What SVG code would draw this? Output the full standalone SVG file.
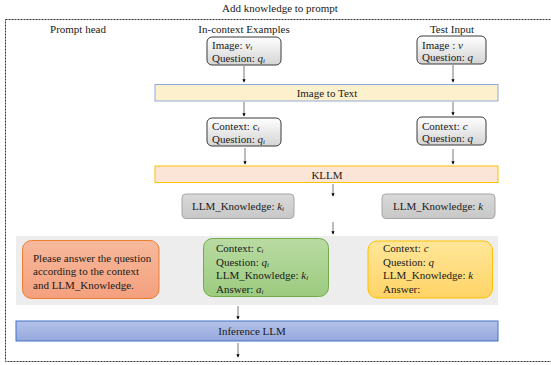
<svg xmlns="http://www.w3.org/2000/svg" width="551" height="365" viewBox="0 0 551 365">
<defs>
<linearGradient id="gIn" x1="0" y1="0" x2="0" y2="1"><stop offset="0" stop-color="#ffffff"/><stop offset="1" stop-color="#d4d4d4"/></linearGradient>
<linearGradient id="gKn" x1="0" y1="0" x2="0" y2="1"><stop offset="0" stop-color="#d9d9d9"/><stop offset="1" stop-color="#c8c8c8"/></linearGradient>
<linearGradient id="gOr" x1="0" y1="0" x2="0" y2="1"><stop offset="0" stop-color="#f7b99c"/><stop offset="1" stop-color="#f4a07e"/></linearGradient>
<linearGradient id="gGr" x1="0" y1="0" x2="0" y2="1"><stop offset="0" stop-color="#b9dba3"/><stop offset="1" stop-color="#9ccb7e"/></linearGradient>
<linearGradient id="gYe" x1="0" y1="0" x2="0" y2="1"><stop offset="0" stop-color="#ffe699"/><stop offset="1" stop-color="#ffd466"/></linearGradient>
<linearGradient id="gBl" x1="0" y1="0" x2="0" y2="1"><stop offset="0" stop-color="#b4c2ea"/><stop offset="1" stop-color="#95a9dc"/></linearGradient>
<marker id="ah" viewBox="0 0 6 6" refX="5" refY="3" markerWidth="4" markerHeight="4" orient="auto"><path d="M0,0 L6,3 L0,6 z" fill="#000"/></marker>
</defs>
<style>
text{font-family:"Liberation Serif","Times New Roman",serif;font-size:11px;fill:#1a1a1a}
.c{text-anchor:middle}
.i{font-style:italic}
.s{font-size:7px;font-style:italic}
.inp{fill:url(#gIn);stroke:#3a3a3a;stroke-width:1}
.kn{fill:url(#gKn);stroke:#a6a6a6;stroke-width:1}
.ar{stroke:#555;stroke-width:0.8;fill:none;marker-end:url(#ah)}
</style>
<text class="c" x="280" y="12">Add knowledge to prompt</text>
<rect x="5.5" y="19.5" width="560" height="342" fill="none" stroke="#333" stroke-width="1" stroke-dasharray="2,1"/>
<text class="c" x="78" y="33">Prompt head</text>
<text class="c" x="244" y="33">In-context Examples</text>
<text class="c" x="452" y="33">Test Input</text>

<g id="bg-prompt"><rect x="16" y="236" width="482" height="69" fill="#ededed"/></g>

<g id="ex-input"><rect class="inp" x="207" y="37" width="74" height="28" rx="5"/>
<text x="212" y="49">Image: <tspan class="i">v</tspan><tspan class="s" dy="1">i</tspan></text>
<text x="212" y="62">Question: <tspan class="i">q</tspan><tspan class="s" dy="1">i</tspan></text></g>
<g id="test-input"><rect class="inp" x="417" y="36" width="69" height="28" rx="5"/>
<text x="422" y="48.5">Image : <tspan class="i">v</tspan></text>
<text x="422" y="61">Question: <tspan class="i">q</tspan></text></g>

<g id="img2text"><rect x="155" y="84.5" width="343" height="16.5" fill="#fdf0cc" stroke="#8eaadb" stroke-width="1"/>
<text class="c" x="327" y="97">Image to Text</text></g>

<g id="ex-context"><rect class="inp" x="207" y="118" width="74" height="28" rx="5"/>
<text x="212" y="130">Context: c<tspan class="s" dy="1">i</tspan></text>
<text x="212" y="143">Question: <tspan class="i">q</tspan><tspan class="s" dy="1">i</tspan></text></g>
<g id="test-context"><rect class="inp" x="417" y="117" width="69" height="28" rx="5"/>
<text x="422" y="129.5">Context: <tspan class="i">c</tspan></text>
<text x="422" y="142">Question: <tspan class="i">q</tspan></text></g>

<g id="kllm"><rect x="155" y="166" width="343" height="16.5" fill="#fbe5d6" stroke="#ffc000" stroke-width="1"/>
<text class="c" x="327" y="178.5">KLLM</text></g>

<g id="ex-knowledge"><rect class="kn" x="182" y="194" width="112" height="24.5" rx="4"/>
<text class="c" x="238" y="210">LLM_Knowledge: <tspan class="i">k</tspan><tspan class="s" dy="1">i</tspan></text></g>
<g id="test-knowledge"><rect class="kn" x="382" y="194" width="113" height="24.5" rx="4"/>
<text class="c" x="438" y="210">LLM_Knowledge: <tspan class="i">k</tspan></text></g>

<g id="prompt-head"><rect x="22.5" y="240.5" width="136.5" height="58" rx="9" fill="url(#gOr)" stroke="#ed7d31" stroke-width="1"/>
<text x="33" y="262">Please answer the question</text>
<text x="33" y="275">according to the context</text>
<text x="33" y="288.5">and LLM_Knowledge.</text></g>

<g id="ex-prompt"><rect x="203.5" y="238.5" width="125" height="58" rx="9" fill="url(#gGr)" stroke="#70ad47" stroke-width="1"/>
<text x="216" y="252">Context: c<tspan class="s" dy="1">i</tspan></text>
<text x="216" y="265.5">Question: <tspan class="i">q</tspan><tspan class="s" dy="1">i</tspan></text>
<text x="216" y="279">LLM_Knowledge: <tspan class="i">k</tspan><tspan class="s" dy="1">i</tspan></text>
<text x="216" y="292.5">Answer: <tspan class="i">a</tspan><tspan class="s" dy="1">i</tspan></text></g>

<g id="test-prompt"><rect x="368" y="241" width="124.5" height="57" rx="9" fill="url(#gYe)" stroke="#ffc000" stroke-width="1"/>
<text x="383" y="252">Context: <tspan class="i">c</tspan></text>
<text x="383" y="265.5">Question: <tspan class="i">q</tspan></text>
<text x="383" y="279">LLM_Knowledge: <tspan class="i">k</tspan></text>
<text x="383" y="292.5">Answer:</text></g>

<g id="inference"><rect x="16" y="321" width="482" height="20" fill="url(#gBl)" stroke="#4472c4" stroke-width="1"/>
<text class="c" x="252" y="335">Inference LLM</text></g>

<g id="connectors">
<line class="ar" x1="244" y1="66" x2="244" y2="82"/>
<line class="ar" x1="453" y1="65" x2="453" y2="82"/>
<line class="ar" x1="244" y1="102" x2="244" y2="116"/>
<line class="ar" x1="453" y1="102" x2="453" y2="115"/>
<line class="ar" x1="245" y1="148" x2="245" y2="164"/>
<line class="ar" x1="453" y1="149" x2="453" y2="164"/>
<line class="ar" x1="333" y1="184" x2="333" y2="196"/>
<line class="ar" x1="333" y1="222" x2="333" y2="234"/>
<line class="ar" x1="238" y1="306" x2="238" y2="319"/>
<line class="ar" x1="238" y1="343" x2="238" y2="357"/>
</g>
</svg>
